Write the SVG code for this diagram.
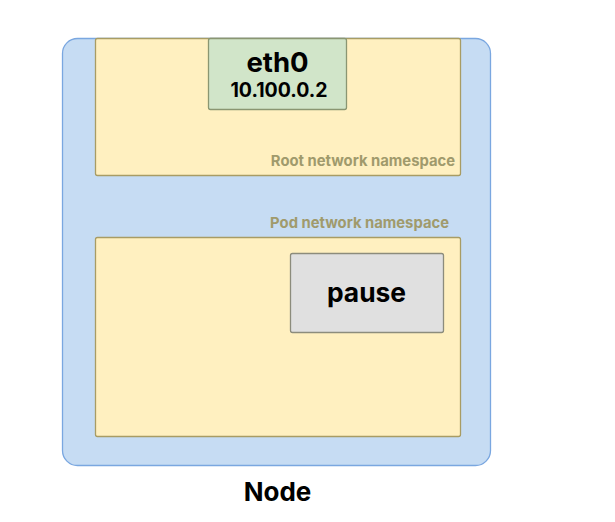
<svg xmlns="http://www.w3.org/2000/svg" width="615" height="522" viewBox="0 0 615 522">
<style>
.lbl{font-family:Inter,"Liberation Sans",sans-serif;font-weight:700;}
.ns{fill:#fff0c0;stroke:#a89c64;stroke-width:1.3;}
.nsl{font-size:14.8px;fill:#a09a6c;text-anchor:end;}
</style>
<rect width="615" height="522" fill="#ffffff"/>
<g id="node">
<rect x="62.5" y="38.5" width="428" height="427" rx="15" fill="#c6dcf3" stroke="#7aa7e0" stroke-width="1.3"/>
<text class="lbl" x="277.5" y="501" font-size="26" text-anchor="middle" fill="#000">Node</text>
</g>
<g id="root-ns">
<rect class="ns" x="95.5" y="38.5" width="365" height="137" rx="2"/>
<text class="lbl nsl" x="455" y="166">Root network namespace</text>
</g>
<g id="eth0">
<rect x="208.5" y="38.5" width="138" height="71" rx="2" fill="#d1e5c9" stroke="#8a9672" stroke-width="1.3"/>
<text class="lbl" x="277.5" y="72" font-size="27.5" text-anchor="middle" fill="#000">eth0</text>
<text class="lbl" x="279" y="97" font-size="19.5" text-anchor="middle" fill="#000">10.100.0.2</text>
</g>
<g id="pod-ns">
<rect class="ns" x="95.5" y="237.5" width="365" height="199" rx="2"/>
<text class="lbl nsl" x="449" y="228" fill="#8f8a5c">Pod network namespace</text>
</g>
<g id="pause">
<rect x="290.5" y="253.5" width="153" height="79" rx="2" fill="#e0e0e0" stroke="#8c8c7c" stroke-width="1.3"/>
<text class="lbl" x="366.5" y="302" font-size="26.4" text-anchor="middle" fill="#000">pause</text>
</g>
<g id="connectors"/>
</svg>
